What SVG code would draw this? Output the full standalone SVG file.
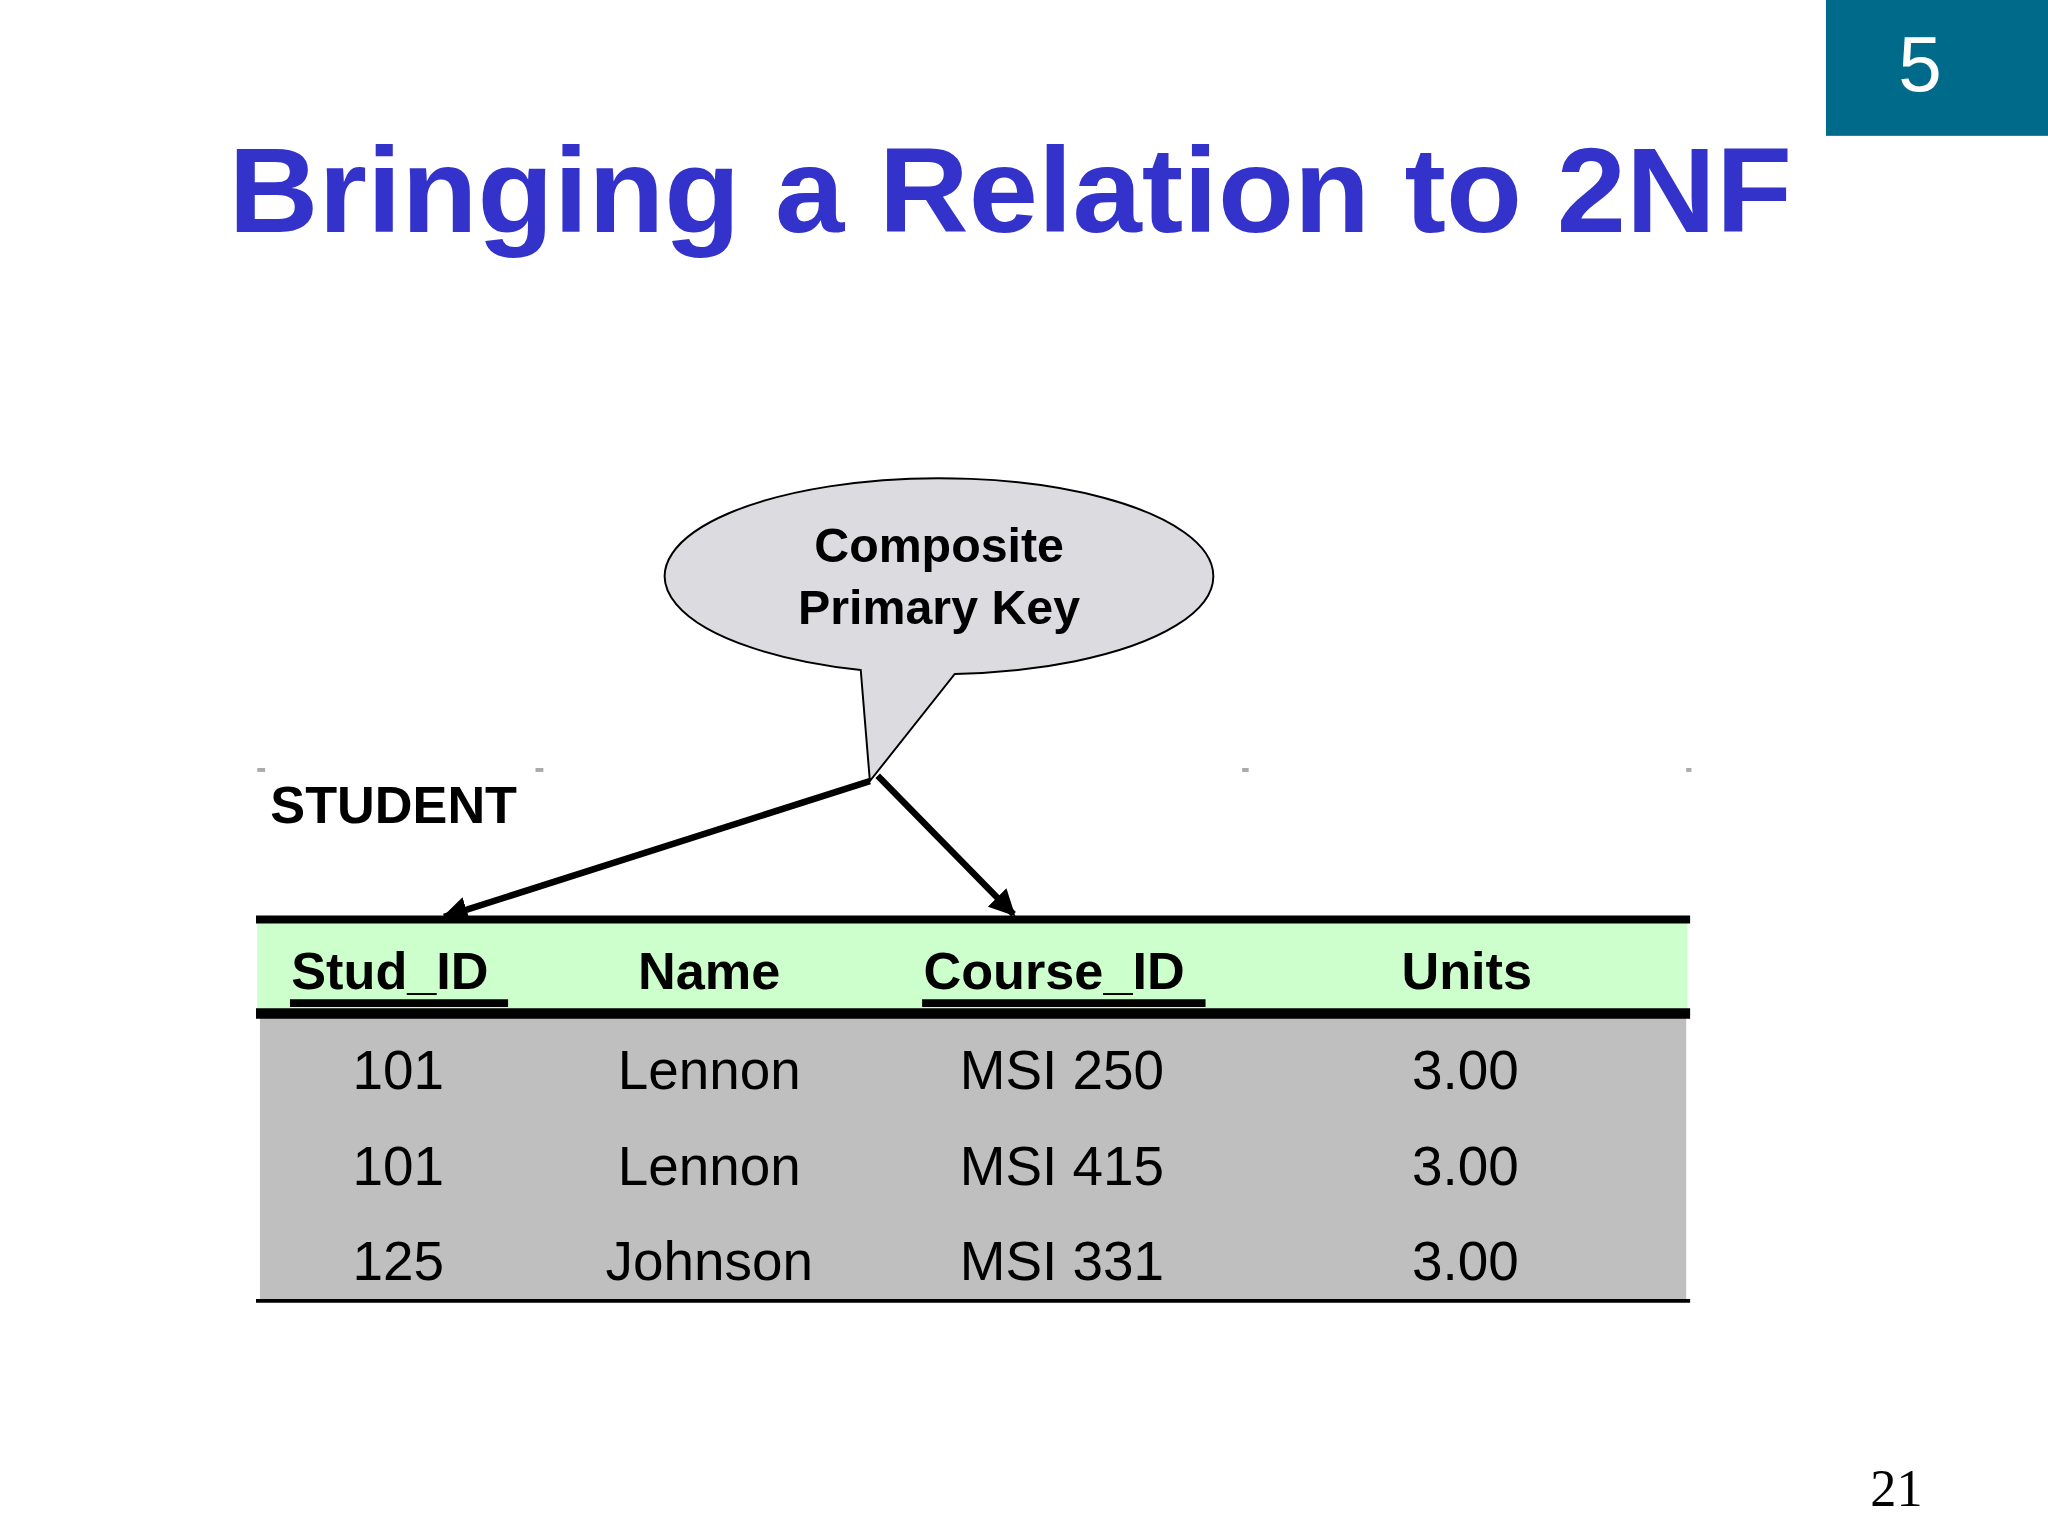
<svg xmlns="http://www.w3.org/2000/svg" width="2048" height="1536" viewBox="0 0 2048 1536">
<defs>
<style>
.h{font-family:"Liberation Sans",Arial,sans-serif;font-weight:bold;font-size:40px;fill:#000}
.c{font-family:"Liberation Sans",Arial,sans-serif;font-size:42px;fill:#000;text-anchor:middle}
.conn{stroke:#000;stroke-width:5;fill:none}
</style>
<marker id="ah" viewBox="0 0 10 10" refX="9" refY="5" markerWidth="4" markerHeight="4" orient="auto" markerUnits="strokeWidth"><path d="M0,0 L10,5 L0,10 z" fill="#000"/></marker>
</defs>
<rect width="2048" height="1536" fill="#fff"/>
<g transform="scale(1.30612)">
<g id="badge"><rect x="1398" y="0" width="170" height="104" fill="#006A8A"/>
<text x="1470" y="70" font-family="Liberation Sans,Arial,sans-serif" font-size="60" fill="#fff" text-anchor="middle">5</text></g>
<text id="title" x="175" y="178" font-family="Liberation Sans,Arial,sans-serif" font-weight="bold" font-size="92" fill="#3333CC" textLength="1197" lengthAdjust="spacingAndGlyphs">Bringing a Relation to 2NF</text>
<g id="bubble">
<path d="M659,513 A210,75 0 1 1 731,516 L666,598 Z" fill="#DCDBE0" stroke="#000" stroke-width="1.5"/>
<text x="719" y="430" class="h" font-size="37" text-anchor="middle" style="font-size:37px">Composite</text>
<text x="719" y="478" class="h" text-anchor="middle" style="font-size:37px">Primary Key</text>
</g>
<text id="label" x="207" y="630" class="h">STUDENT</text>
<g fill="#aaa"><rect x="197" y="588" width="6" height="3"/><rect x="410" y="588" width="6" height="3"/><rect x="951" y="588" width="5" height="3"/><rect x="1291" y="588" width="4" height="3"/></g>
<g id="table">
<rect x="197" y="705" width="1095" height="71" fill="#CCFFCC"/>
<rect x="199" y="778" width="1092" height="218" fill="#C0BFC0"/>
<line x1="196" y1="704" x2="1294" y2="704" stroke="#000" stroke-width="6"/>
<line x1="196" y1="776" x2="1294" y2="776" stroke="#000" stroke-width="8"/>
<line x1="196" y1="996" x2="1294" y2="996" stroke="#000" stroke-width="3"/>
<text x="223" y="757" class="h">Stud_ID</text>
<text x="543" y="757" class="h" text-anchor="middle">Name</text>
<text x="707" y="757" class="h">Course_ID</text>
<text x="1123" y="757" class="h" text-anchor="middle">Units</text>
<line x1="222" y1="768" x2="389" y2="768" stroke="#000" stroke-width="6"/>
<line x1="706" y1="768" x2="923" y2="768" stroke="#000" stroke-width="6"/>
<text x="305" y="834" class="c">101</text><text x="543" y="834" class="c">Lennon</text><text x="813" y="834" class="c">MSI 250</text><text x="1122" y="834" class="c">3.00</text>
<text x="305" y="907" class="c">101</text><text x="543" y="907" class="c">Lennon</text><text x="813" y="907" class="c">MSI 415</text><text x="1122" y="907" class="c">3.00</text>
<text x="305" y="980" class="c">125</text><text x="543" y="980" class="c">Johnson</text><text x="813" y="980" class="c">MSI 331</text><text x="1122" y="980" class="c">3.00</text>
</g>
<g id="connectors">
<line x1="666" y1="598" x2="340" y2="702" class="conn" marker-end="url(#ah)"/>
<line x1="672" y1="594" x2="776" y2="700" class="conn" marker-end="url(#ah)"/>
</g>
<text x="1452" y="1153" font-family="Liberation Serif,Times New Roman,serif" font-size="40" text-anchor="middle">21</text>
</g>
</svg>
